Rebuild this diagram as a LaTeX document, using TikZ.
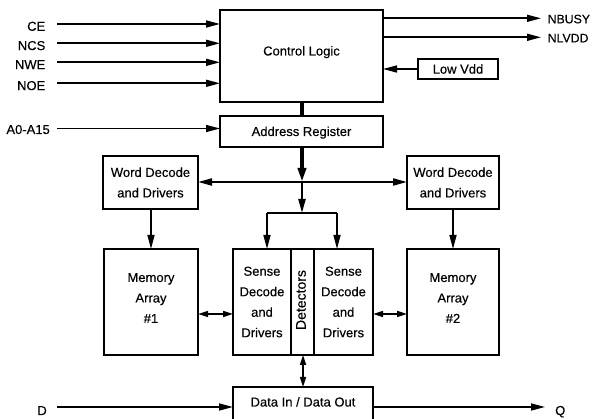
\documentclass[tikz,border=0pt]{standalone}
\usepackage{fontspec}
\setmainfont[FakeBold=0.3]{Liberation Sans}
\usetikzlibrary{arrows.meta}
\begin{document}
\begin{tikzpicture}[x=1pt,y=-1pt,
  box/.style={draw, line width=1.4pt, inner sep=0pt, outer sep=0pt, align=center},
  txt/.style={inner sep=0pt, align=center},
  lbl/.style={inner sep=0pt},
  sig/.style={line width=1.6pt},
  arr/.style={sig, -{Triangle[length=14pt,width=7pt]}},
  darr/.style={sig, {Triangle[length=10pt,width=6pt]}-{Triangle[length=10pt,width=6pt]}},
  every node/.style={font=\fontsize{13}{20.5}\selectfont}]
\useasboundingbox (0,0) rectangle (592,419);
\clip (0,0) rectangle (592,419);

% ---- blocks ----
\node[box, minimum width=163pt, minimum height=92pt]  (ctrl)   at (301.5,56) {};
\node[box, minimum width=80pt,  minimum height=20pt]  (lowvdd) at (458,69) {Low Vdd};
\node[box, minimum width=163pt, minimum height=31pt]  (addr)   at (301.5,131.5) {};
\node[box, minimum width=95pt,  minimum height=53pt]  (wdl)    at (150.5,182.5) {Word Decode\\and Drivers};
\node[box, minimum width=92pt,  minimum height=53pt]  (wdr)    at (453,182.5) {Word Decode\\and Drivers};
\node[box, minimum width=94pt,  minimum height=106pt] (mem1)   at (151,302) {};
\node[box, minimum width=92pt,  minimum height=106pt] (mem2)   at (453,302) {};
\node[box, minimum width=58pt,  minimum height=106pt] (sdl)    at (262,302) {Sense\\Decode\\and\\Drivers};
\node[box, minimum width=23pt,  minimum height=106pt] (det)    at (302.5,302) {};
\node[box, minimum width=59pt,  minimum height=106pt] (sdr)    at (343.5,302) {Sense\\Decode\\and\\Drivers};
\node[box, minimum width=140pt, minimum height=50pt]  (dio)    at (303,412) {};

% ---- block texts ----
\node[txt, anchor=base] (ctrlT) at (301.5,55.5) {Control Logic};
\node[txt, anchor=base] (addrT) at (301.5,136) {Address Register};
\node[txt] (mem1T) at ([yshift=4pt]mem1.center) {Memory\\Array\\\#1};
\node[txt] (mem2T) at ([yshift=4pt]mem2.center) {Memory\\Array\\\#2};
\node[txt, rotate=90, font=\fontsize{14}{16}\selectfont] (detT) at (301,300) {Detectors};
\node[txt, anchor=base] (dioT) at (303,406.5) {Data In / Data Out};

% ---- control inputs ----
\foreach \n/\t/\y in {ce/CE/24, ncs/NCS/43.3, nwe/NWE/62.3, noe/NOE/83.3} {
  \node[lbl, anchor=base east] (\n) at (45.5,{\y+6.8}) {\t};
  \coordinate (s\n) at (57,\y);
  \draw[arr] (s\n) -- (ctrl.west |- s\n);
}
\node[lbl, anchor=base east] (addrin) at (50,134) {A0-A15};
\coordinate (saddr) at (57,128.5);
\draw[arr] (saddr) -- (addr.west |- saddr);

% ---- status outputs ----
\coordinate (tbusy) at (541,18.3);
\coordinate (tlvdd) at (541,37.3);
\node[lbl, anchor=base west, font=\fontsize{12.3}{14}\selectfont] (nbusy) at (547.5,23.3) {NBUSY};
\node[lbl, anchor=base west, font=\fontsize{12.3}{14}\selectfont] (nlvdd) at (547.5,42.3) {NLVDD};
\draw[arr] (ctrl.east |- tbusy) -- (tbusy);
\draw[arr] (ctrl.east |- tlvdd) -- (tlvdd);
\draw[arr] (lowvdd.west) -- (ctrl.east |- lowvdd.west);

% ---- address path ----
\coordinate (j1) at (302,182);
\coordinate (j2) at (302,213);
\coordinate (b1) at (267,213);
\coordinate (b2) at (337,213);
\draw[line width=4pt] (ctrl.south -| j1) -- (addr.north -| j1);
\draw[line width=4pt, -{Triangle[length=14pt,width=8pt]}] (addr.south -| j1) -- (j1);
\draw[line width=2pt, {Triangle[length=14pt,width=7pt]}-{Triangle[length=14pt,width=7pt]}]
  (wdl.east |- j1) -- (wdr.west |- j1);
\draw[line width=2.2pt, -{Triangle[length=14pt,width=7pt]}] (j1) -- (j2);
\draw[sig] (b1) -- (b2);
\draw[arr] (b1) -- (sdl.north -| b1);
\draw[arr] (b2) -- (sdr.north -| b2);
\draw[arr] (wdl.south -| mem1T) -- (mem1.north -| mem1T);
\draw[arr] (wdr.south) -- (mem2.north);

% ---- data path ----
\coordinate (dm) at (0,314);
\draw[darr] (mem1.east |- dm) -- (sdl.west |- dm);
\draw[darr] (sdr.east |- dm) -- (mem2.west |- dm);
\draw[darr] (det.south -| 303,0) -- (dio.north -| 303,0);
\node[lbl, anchor=base east] (din) at (47,415) {D};
\node[lbl, anchor=base west] (dout) at (555,415) {Q};
\coordinate (sd) at (57,407);
\coordinate (tq) at (545,407);
\draw[arr] (sd) -- (dio.west |- sd);
\draw[arr] (dio.east |- tq) -- (tq);
\end{tikzpicture}
\end{document}
